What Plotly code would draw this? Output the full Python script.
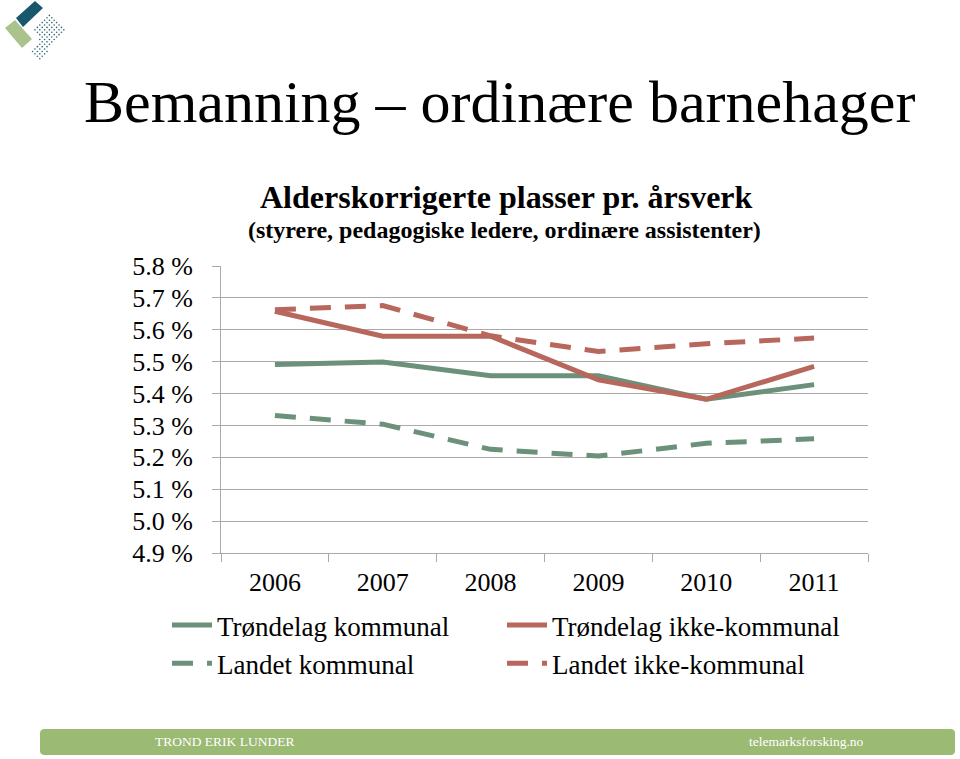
import math
import plotly.graph_objects as go

years = ["2006", "2007", "2008", "2009", "2010", "2011"]
trondelag_kommunal = [5.491, 5.499, 5.456, 5.456, 5.382, 5.428]
trondelag_ikke_kommunal = [5.658, 5.580, 5.580, 5.443, 5.382, 5.485]
landet_kommunal = [5.331, 5.304, 5.225, 5.204, 5.244, 5.258]
landet_ikke_kommunal = [5.663, 5.676, 5.581, 5.532, 5.556, 5.574]
y_ticks = [4.9, 5.0, 5.1, 5.2, 5.3, 5.4, 5.5, 5.6, 5.7, 5.8]
y_tick_labels = [f"{v:.1f} %" for v in y_ticks]

GREEN = "rgb(107,145,123)"
RED = "rgb(184,103,92)"
AXIS = "rgb(170,170,170)"
SERIF = "Times New Roman"
TICKSERIF = "serif"
DASH = "21px,14px"

W, H = 960, 759
L, R, T, B = 221, 868, 266, 553


def px(x):
    return (x - L) / (R - L)


def py(y):
    return (B - y) / (B - T)


fig = go.Figure()
fig.add_trace(go.Scatter(x=years, y=trondelag_kommunal, name="Trøndelag kommunal",
                         mode="lines", line=dict(color=GREEN, width=5), legend="legend"))
fig.add_trace(go.Scatter(x=years, y=trondelag_ikke_kommunal, name="Trøndelag ikke-kommunal",
                         mode="lines", line=dict(color=RED, width=5), legend="legend2"))
fig.add_trace(go.Scatter(x=years, y=landet_kommunal, name="Landet kommunal",
                         mode="lines", line=dict(color=GREEN, width=5, dash=DASH), legend="legend"))
fig.add_trace(go.Scatter(x=years, y=landet_ikke_kommunal, name="Landet ikke-kommunal",
                         mode="lines", line=dict(color=RED, width=5, dash=DASH), legend="legend2"))


def poly(points):
    return "M " + " L ".join(f"{px(a):.5f},{py(b):.5f}" for a, b in points) + " Z"


def rounded_rect(x0, y0, x1, y1, r):
    pts = []
    for cx, cy, a0 in [(x1 - r, y0 + r, -90), (x1 - r, y1 - r, 0), (x0 + r, y1 - r, 90), (x0 + r, y0 + r, 180)]:
        for k in range(7):
            a = math.radians(a0 + k * 15)
            pts.append((cx + r * math.cos(a), cy + r * math.sin(a)))
    return poly(pts)


shapes = []
# footer bar
shapes.append(dict(type="path", xref="paper", yref="paper",
                   path=rounded_rect(40, 729, 955, 755, 4),
                   fillcolor="rgb(155,186,115)", line=dict(width=0), layer="below"))

# logo: teal bar and light green bar
shapes.append(dict(type="path", xref="paper", yref="paper",
                   path=poly([(16, 18), (35, 1), (43, 8), (23, 27)]),
                   fillcolor="rgb(24,88,108)", line=dict(width=0)))
shapes.append(dict(type="path", xref="paper", yref="paper",
                   path=poly([(5, 28), (15, 20), (32, 39), (22, 48)]),
                   fillcolor="rgb(170,195,140)", line=dict(width=0)))


def inside(pt, polygon):
    x, y = pt
    n = len(polygon)
    c = False
    for i in range(n):
        x1, y1 = polygon[i]
        x2, y2 = polygon[(i + 1) % n]
        if (y1 > y) != (y2 > y):
            xi = x1 + (y - y1) * (x2 - x1) / (y2 - y1)
            if x < xi:
                c = not c
    return c


dot_region = [(47, 13), (66, 30), (38, 62), (32, 52), (40, 40), (34, 30)]
s = 3.4
for i in range(-30, 30):
    for j in range(-30, 30):
        cx = 47 + (i + j) * s / math.sqrt(2)
        cy = 13 + (i - j) * s / math.sqrt(2)
        if inside((cx, cy), dot_region):
            r = 0.8
            shapes.append(dict(type="circle", xref="paper", yref="paper",
                               x0=px(cx - r), x1=px(cx + r), y0=py(cy + r), y1=py(cy - r),
                               fillcolor="rgb(45,100,115)", line=dict(width=0)))

annotations = [
    dict(text="Bemanning – ordinære barnehager", xref="paper", yref="paper",
         x=px(499), y=py(102), xanchor="center", yanchor="middle", showarrow=False,
         font=dict(family=SERIF, size=60, color="black")),
    dict(text="<b>Alderskorrigerte plasser pr. årsverk</b>", xref="paper", yref="paper",
         x=px(506), y=py(197), xanchor="center", yanchor="middle", showarrow=False,
         font=dict(family=SERIF, size=32, color="black")),
    dict(text="<b>(styrere, pedagogiske ledere, ordinære assistenter)</b>", xref="paper", yref="paper",
         x=px(504), y=py(230), xanchor="center", yanchor="middle", showarrow=False,
         font=dict(family=SERIF, size=24, color="black")),
    dict(text="TROND ERIK LUNDER", xref="paper", yref="paper",
         x=px(153), y=py(741), xanchor="left", yanchor="middle", showarrow=False,
         font=dict(family=SERIF, size=13.5, color="white")),
    dict(text="telemarksforsking.no", xref="paper", yref="paper",
         x=px(866), y=py(741), xanchor="right", yanchor="middle", showarrow=False,
         font=dict(family=SERIF, size=13.5, color="white")),
]

legend_common = dict(orientation="v", xanchor="left", yanchor="top", itemwidth=40,
                     font=dict(family=SERIF, size=27, color="black"),
                     tracegroupgap=0, traceorder="normal", bgcolor="rgba(0,0,0,0)")

fig.update_layout(
    width=W, height=H,
    margin=dict(l=L, r=W - R, t=T, b=H - B, pad=0),
    paper_bgcolor="white", plot_bgcolor="white",
    font=dict(family=SERIF, size=26, color="black"),
    showlegend=True,
    legend=dict(x=px(167), y=py(601), **legend_common),
    legend2=dict(x=px(502), y=py(601), **legend_common),
    xaxis=dict(type="category", range=[-0.5, 5.5], showgrid=False,
               showline=True, linecolor=AXIS, linewidth=1,
               ticks="outside", ticklen=8, tickcolor=AXIS,
               tickson="boundaries", tickfont=dict(family=TICKSERIF, size=26, color="black"),
               ticklabelstandoff=6),
    yaxis=dict(range=[4.9, 5.8], tickvals=y_ticks, ticktext=y_tick_labels,
               showgrid=True, gridcolor=AXIS, gridwidth=1,
               showline=True, linecolor=AXIS, linewidth=1,
               ticks="outside", ticklen=8, tickcolor=AXIS,
               tickfont=dict(family=TICKSERIF, size=26, color="black"), zeroline=False,
               ticklabelstandoff=14),
    shapes=shapes,
    annotations=annotations,
)

fig.write_html("out.html")
